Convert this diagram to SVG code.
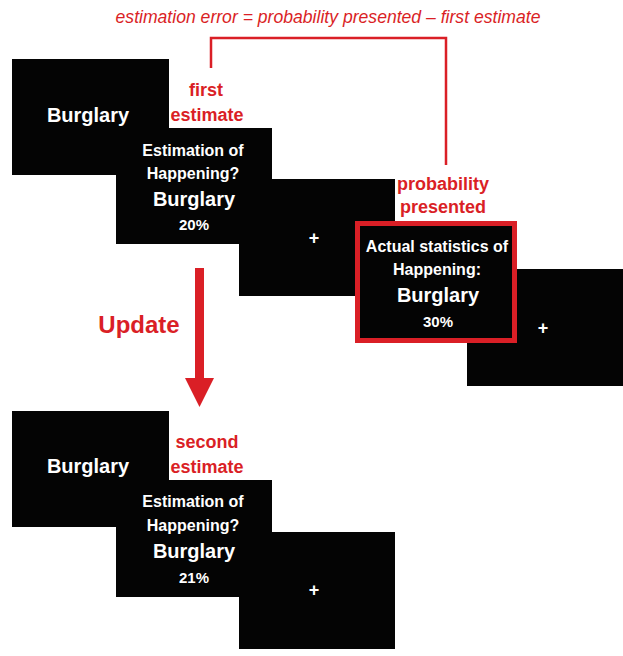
<svg xmlns="http://www.w3.org/2000/svg" width="623" height="656" viewBox="0 0 623 656">
<style>
.scr{fill:#040404}
.w{fill:#fff;font-family:"Liberation Sans",Arial,sans-serif;font-weight:bold;text-anchor:middle}
.r{fill:#da1f26;font-family:"Liberation Sans",Arial,sans-serif;font-weight:bold;text-anchor:middle}
.big{font-size:20px}
.mid{font-size:16px}
.pct{font-size:15px}
.lbl{font-size:18px}
</style>
<rect width="623" height="656" fill="#fff"/>
<text x="328" y="23" fill="#da1f26" font-family="Liberation Sans, Arial, sans-serif" font-style="italic" font-size="17.6" text-anchor="middle">estimation error = probability presented – first estimate</text>
<g id="connectors">
<polyline points="211,68 211,38 446,38 446,165" fill="none" stroke="#da1f26" stroke-width="2.5"/>
<g id="update-arrow">
<rect x="195" y="268" width="9" height="111" fill="#da1f26"/>
<polygon points="185,378 214,378 199.5,407" fill="#da1f26"/>
</g>
</g>
<g id="top-burglary"><rect class="scr" x="12" y="59" width="157" height="116"/><text class="w big" x="88" y="122">Burglary</text></g>
<g id="top-estimation"><rect class="scr" x="116" y="128" width="156" height="116"/>
<text class="w mid" x="193" y="156">Estimation of</text>
<text class="w mid" x="193" y="179">Happening?</text>
<text class="w big" x="194" y="206">Burglary</text>
<text class="w pct" x="194" y="230">20%</text></g>
<g id="top-fix1"><rect class="scr" x="239" y="179" width="156" height="117"/><text class="w lbl" x="314" y="244">+</text></g>
<g id="top-fix2"><rect class="scr" x="467" y="269" width="156" height="117"/><text class="w lbl" x="543" y="334">+</text></g>
<g id="top-actual"><rect class="scr" x="357.5" y="223.5" width="157" height="117" stroke="#da1f26" stroke-width="5"/>
<text class="w mid" x="437" y="252">Actual statistics of</text>
<text class="w mid" x="437" y="275">Happening:</text>
<text class="w big" x="438" y="302">Burglary</text>
<text class="w pct" x="438" y="327">30%</text></g>
<g id="label-first"><text class="r lbl" x="206" y="96">first</text><text class="r lbl" x="207" y="121">estimate</text></g>
<g id="label-prob"><text class="r lbl" x="443" y="190">probability</text><text class="r lbl" x="443" y="213">presented</text></g>
<g id="label-update"><text class="r" font-size="24" x="139" y="333">Update</text></g>
<g id="bot-burglary"><rect class="scr" x="12" y="411" width="157" height="116"/><text class="w big" x="88" y="473">Burglary</text></g>
<g id="bot-estimation"><rect class="scr" x="116" y="480" width="156" height="117"/>
<text class="w mid" x="193" y="507">Estimation of</text>
<text class="w mid" x="193" y="531">Happening?</text>
<text class="w big" x="194" y="558">Burglary</text>
<text class="w pct" x="194" y="583">21%</text></g>
<g id="bot-fix"><rect class="scr" x="239" y="532" width="156" height="117"/><text class="w lbl" x="314" y="596">+</text></g>
<g id="label-second"><text class="r lbl" x="207" y="448">second</text><text class="r lbl" x="207" y="473">estimate</text></g>
</svg>
